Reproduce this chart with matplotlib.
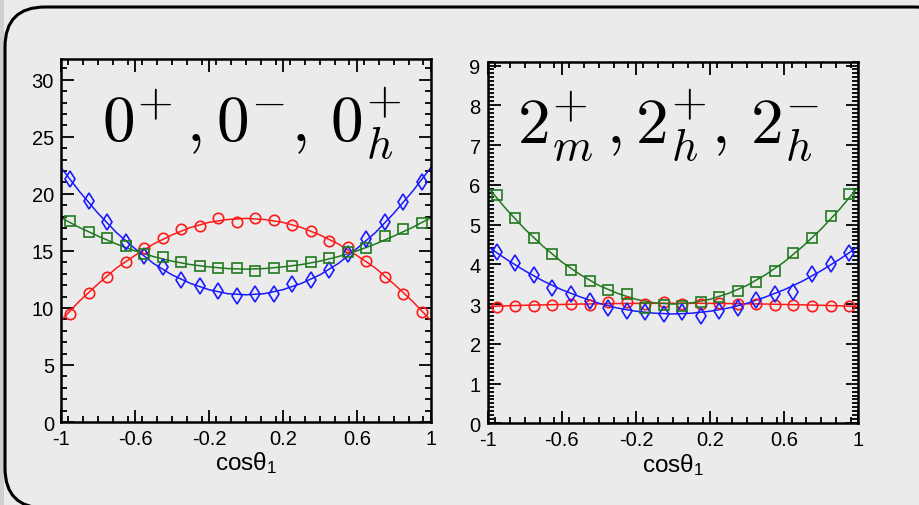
import matplotlib
matplotlib.use("Agg")
import matplotlib.pyplot as plt
from matplotlib.patches import FancyBboxPatch, Rectangle
from matplotlib.ticker import MultipleLocator
from matplotlib.transforms import IdentityTransform

plt.rcParams['font.family'] = ['Liberation Sans', 'DejaVu Sans']
plt.rcParams['mathtext.fontset'] = 'custom'
plt.rcParams['mathtext.rm'] = 'Liberation Sans'
plt.rcParams['mathtext.it'] = 'Liberation Sans:italic'

# bin centres of the histogram points
x_bins = [-0.95, -0.85, -0.75, -0.65, -0.55, -0.45, -0.35, -0.25, -0.15, -0.05,
          0.05, 0.15, 0.25, 0.35, 0.45, 0.55, 0.65, 0.75, 0.85, 0.95]
# x positions where the smooth curves were read
x_curve = [-1.0, -0.9, -0.8, -0.7, -0.6, -0.5, -0.4, -0.3, -0.2, -0.1, 0.0,
           0.1, 0.2, 0.3, 0.4, 0.5, 0.6, 0.7, 0.8, 0.9, 1.0]

# left panel: 0+, 0-, 0h+
spin0_red_pts = [9.51, 11.3, 12.67, 13.99, 15.25, 16.1, 16.92, 17.21, 17.88, 17.56,
                 17.85, 17.7, 17.27, 16.71, 15.83, 15.3, 14.13, 12.73, 11.21, 9.66]
spin0_blue_pts = [21.3, 19.35, 17.56, 15.8, 14.57, 13.6, 12.44, 11.94, 11.44, 11.06,
                  11.2, 11.26, 12.09, 12.44, 13.3, 14.7, 16.07, 17.5, 19.3, 21.04]
spin0_green_pts = [17.65, 16.68, 16.1, 15.39, 14.72, 14.49, 13.99, 13.7, 13.46, 13.46,
                   13.2, 13.46, 13.7, 13.99, 14.34, 14.87, 15.22, 16.27, 16.92, 17.44]
spin0_red_curve = [8.9, 10.6, 12.1, 13.5, 14.6, 15.6, 16.4, 17.05, 17.5, 17.75, 17.85,
                   17.75, 17.5, 17.05, 16.4, 15.6, 14.6, 13.5, 12.1, 10.6, 8.9]
spin0_blue_curve = [22.3, 20.2, 18.3, 16.6, 15.2, 13.9, 12.9, 12.15, 11.6, 11.25, 11.15,
                    11.25, 11.6, 12.15, 12.9, 13.9, 15.2, 16.6, 18.3, 20.2, 22.3]
spin0_green_curve = [17.9, 17.05, 16.3, 15.6, 15.0, 14.5, 14.1, 13.8, 13.6, 13.45, 13.4,
                     13.45, 13.6, 13.8, 14.1, 14.5, 15.0, 15.6, 16.3, 17.05, 17.9]

# right panel: 2m+, 2h+, 2h-
spin2_red_pts = [2.93, 2.94, 2.94, 2.97, 2.99, 2.98, 3.04, 3.04, 2.99, 3.05,
                 2.99, 3.01, 3.02, 3.0, 2.99, 2.98, 2.97, 2.94, 2.94, 2.94]
spin2_blue_pts = [4.32, 4.04, 3.72, 3.41, 3.26, 3.08, 2.91, 2.83, 2.79, 2.74,
                  2.8, 2.7, 2.83, 2.91, 3.09, 3.26, 3.31, 3.75, 4.0, 4.29]
spin2_green_pts = [5.75, 5.17, 4.67, 4.27, 3.86, 3.58, 3.35, 3.26, 2.91, 2.97,
                   2.94, 3.04, 3.19, 3.33, 3.55, 3.83, 4.29, 4.65, 5.21, 5.77]
spin2_red_curve = [2.94, 2.955, 2.97, 2.98, 2.99, 3.0, 3.007, 3.013, 3.017, 3.019, 3.02,
                   3.019, 3.017, 3.013, 3.007, 3.0, 2.99, 2.98, 2.97, 2.955, 2.94]
spin2_blue_curve = [4.45, 4.13, 3.84, 3.58, 3.36, 3.18, 3.02, 2.9, 2.82, 2.77, 2.75,
                    2.77, 2.82, 2.9, 3.02, 3.18, 3.36, 3.58, 3.84, 4.13, 4.45]
spin2_green_curve = [5.95, 5.39, 4.89, 4.45, 4.06, 3.74, 3.47, 3.27, 3.12, 3.03, 3.0,
                     3.03, 3.12, 3.27, 3.47, 3.74, 4.06, 4.45, 4.89, 5.39, 5.95]

RED = '#ff1a1a'
BLUE = '#1a1aff'
GREEN = '#1f7a1f'
BG = '#ebebeb'

fig = plt.figure(figsize=(9.2, 5.06), dpi=100, facecolor=BG)

# slide-like frame behind the axes
fig.patches.append(Rectangle((0, 0), 4, 506, transform=IdentityTransform(),
                             facecolor='#cfcfcf', edgecolor='none', zorder=-2))
fig.patches.append(FancyBboxPatch((5, -3), 950, 501, boxstyle="round,pad=0,rounding_size=40",
                                  transform=IdentityTransform(), facecolor=BG,
                                  edgecolor='black', linewidth=2.2, zorder=-1))


def draw_panel(ax, series, ylim, ymajor, yminor, title, tx):
    for pts, curve, color, marker, ms in series:
        ax.plot(x_curve, curve, color=color, lw=1.1, zorder=2)
        ax.plot(x_bins, pts, ls='none', marker=marker, ms=ms, mfc='none',
                mec=color, mew=1.2, zorder=3)
    ax.set_xlim(-1, 1)
    ax.set_ylim(*ylim)
    ax.set_facecolor('none')
    ax.xaxis.set_minor_locator(MultipleLocator(0.08))
    ax.yaxis.set_major_locator(MultipleLocator(ymajor))
    ax.yaxis.set_minor_locator(MultipleLocator(yminor))
    ax.set_xticks([-1, -0.6, -0.2, 0.2, 0.6, 1])
    ax.set_xticklabels(['-1', '-0.6', '-0.2', '0.2', '0.6', '1'])
    ax.tick_params(which='both', direction='in', top=True, right=True,
                   labelsize=14.5, width=1.3, pad=5)
    ax.tick_params(which='major', length=9)
    ax.tick_params(which='minor', length=4.5)
    for s in ax.spines.values():
        s.set_linewidth(1.8)
    ax.set_xlabel('cosθ$_1$', fontsize=17.5, labelpad=1)
    ax.text(tx, 0.774, title, transform=ax.transAxes, fontsize=47, ha='left',
            va='baseline', math_fontfamily='cm')


ax1 = fig.add_axes([0.0663, 0.164, 0.402, 0.717])
draw_panel(ax1,
           [(spin0_red_pts, spin0_red_curve, RED, 'o', 7.5),
            (spin0_blue_pts, spin0_blue_curve, BLUE, 'd', 8.5),
            (spin0_green_pts, spin0_green_curve, GREEN, 's', 7.5)],
           (0, 31.8), 5, 1, r'$0^{+}\,,0^{-},\,0^{+}_{h}$', 0.11)

ax2 = fig.add_axes([0.530, 0.1614, 0.403, 0.715])
draw_panel(ax2,
           [(spin2_red_pts, spin2_red_curve, RED, 'o', 7.5),
            (spin2_blue_pts, spin2_blue_curve, BLUE, 'd', 8.5),
            (spin2_green_pts, spin2_green_curve, GREEN, 's', 7.5)],
           (0, 9.1), 1, 0.1, r'$2^{+}_{m}\,,2^{+}_{h},\,2^{-}_{h}$', 0.08)

fig.savefig('out.png', dpi=100, facecolor=BG)
